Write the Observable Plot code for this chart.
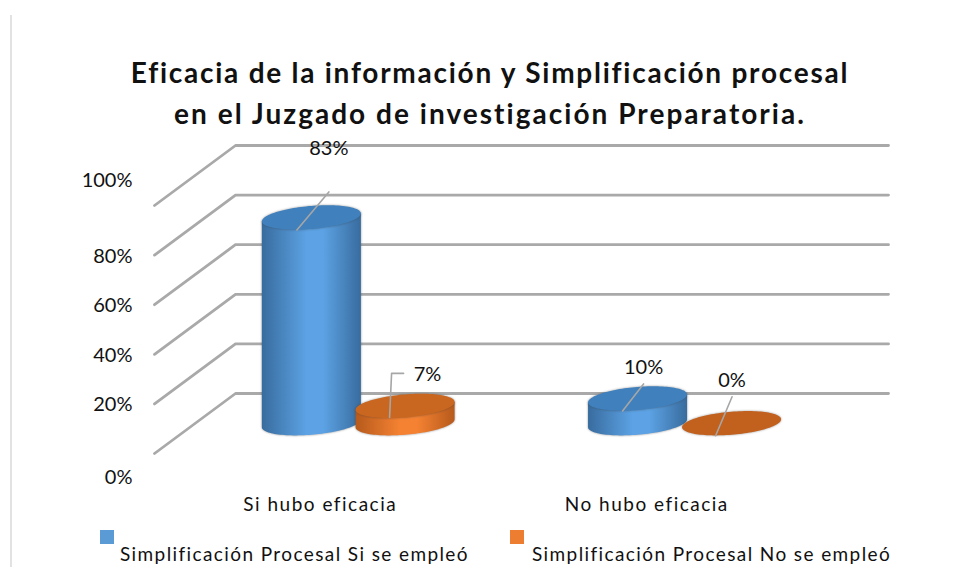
<!DOCTYPE html>
<html lang="es">
<head>
<meta charset="utf-8">
<script src="https://cdn.jsdelivr.net/npm/d3@7"></script>
<script src="https://cdn.jsdelivr.net/npm/@observablehq/plot@0.6"></script>
<style>
  html, body { margin: 0; padding: 0; background: #fff; }
  #page { position: relative; width: 958px; height: 567px; overflow: hidden; font-family: Lato, sans-serif; color: #111; font-variant-ligatures: none; }
  #edge { position: absolute; left: 10px; top: 15px; bottom: 0; width: 2px; background: #e2e2e2; }
  #title { height: 133px; box-sizing: border-box; padding-top: 52px; padding-left: 22px; text-align: center; font-weight: 700; font-size: 28px; line-height: 41px; white-space: nowrap; }
  #title span { display: block; }
  #title span:nth-child(1) { letter-spacing: 1.75px; }
  #title span:nth-child(2) { letter-spacing: 2.03px; }
  #chart svg { display: block; font-variant-ligatures: none; }
  #chart svg [aria-label="x-axis tick label"] { letter-spacing: 1.5px; font-size: 19px; }
  #legend { position: relative; height: 45px; font-size: 19px; white-space: nowrap; }
  #legend i { position: absolute; top: 8px; width: 14px; height: 14px; }
  #legend span { position: absolute; top: 21px; line-height: 22px; letter-spacing: 1.4px; }
</style>
</head>
<body>
<div id="page">
  <div id="edge"></div>
  <div id="title"></div>
  <div id="chart"></div>
  <div id="legend"></div>
</div>
<script>
const titleLines = ["Eficacia de la información y Simplificación procesal", "en el Juzgado de investigación Preparatoria."];
const categories = ["Si hubo eficacia", "No hubo eficacia"];
const seriesNames = ["Simplificación Procesal Si se empleó", "Simplificación Procesal No se empleó"];
const siValues = [83, 10];
const noValues = [7, 0];
const yTicks = [0, 20, 40, 60, 80, 100];
const seriesColors = ["#5b9bd5", "#ed7d31"];

// Scale geometry: one category = 326.5px, one percent = 2.48px
const PX = 1 / 326.5, PY = 1 / 2.48;
const depthX = 81 * PX, depthY = 60 * PY;
const baseLevel = 12;
const radiusX = 49.5 * PX, radiusY = 11.5 * PY, shear = 0.08 * PY / PX;

function ellipse(cx, level) {
  return d3.range(0, 61).map(i => {
    const u = radiusX * Math.cos(Math.PI * (1 - i / 60));
    const h = radiusY * Math.sqrt(Math.max(0, 1 - (u / radiusX) ** 2));
    return {x: cx + u, lo: level + shear * u - h, hi: level + shear * u + h, mid: level + shear * u};
  });
}
function cylinderMarks(cx, value, bodyFill, topFill) {
  const level = baseLevel + value;
  const top = ellipse(cx, level);
  const bottom = ellipse(cx, baseLevel);
  const body = bottom.map((d, i) => ({x: d.x, y1: d.lo, y2: top[i].mid}));
  return [
    value > 0 ? Plot.areaY(body, {x: "x", y1: "y1", y2: "y2", fill: bodyFill, imageFilter: "drop-shadow(0 0 1px rgba(60,60,60,.55))"}) : null,
    Plot.areaY(top, {x: "x", y1: "lo", y2: "hi", fill: topFill, imageFilter: "blur(0.5px) drop-shadow(0 0 1px rgba(60,60,60,.5))"})
  ];
}

const cylinders = [
  {cx: 0.482, value: siValues[0], body: "url(#gBlue)", top: "#3f80bd", leader: [[-15, 12], [17, -26]], label: [17, -69]},
  {cx: 0.769, value: noValues[0], body: "url(#gOrange)", top: "#c9661f", leader: [[-16, 11], [-14, -33], [-2, -33]], label: [22, -32]},
  {cx: 1.481, value: siValues[1], body: "url(#gBlue)", top: "#3f80bd", leader: [[-15.5, 12], [5.5, -15]], label: [5.5, -31]},
  {cx: 1.769, value: noValues[1], body: "url(#gOrange)", top: "#c2601d", leader: [[-16.5, 12], [0, -27]], label: [0, -43]}
];

function gradient(id, edge, mid) {
  const g = d3.create("svg:linearGradient").attr("id", id);
  [[0, edge], [0.45, mid], [0.62, mid], [1, edge]].forEach(([o, c]) =>
    g.append("stop").attr("offset", o).attr("stop-color", c));
  return g.node();
}
const defsMark = () => {
  const d = d3.create("svg:defs");
  d.node().append(gradient("gBlue", "#386c9e", "#5ca2e4"), gradient("gOrange", "#b65a1c", "#f58232"));
  return d.node();
};

const gridMarks = yTicks.map(v => Plot.line(
  [{x: 0, y: v}, {x: depthX, y: v + depthY}, {x: 2 + depthX, y: v + depthY}],
  {x: "x", y: "y", stroke: "#a9a9a9", strokeWidth: 2.8, strokeLinejoin: "round", imageFilter: "blur(0.6px)"}
));

const leaderMarks = cylinders.flatMap(c => {
  const level = baseLevel + c.value;
  const pt = ([dx, dy]) => ({x: c.cx + dx * PX, y: level - dy * PY});
  const [lx, ly] = c.label;
  return [
    Plot.line(c.leader.map(pt), {x: "x", y: "y", stroke: "#a6a6a6", strokeWidth: 1.6}),
    Plot.text([pt([lx, ly])], {x: "x", y: "y", text: () => c.value + "%", fill: "#111"})
  ];
});

const chart = Plot.plot({
  width: 958,
  height: 389,
  marginTop: 11,
  marginBottom: 69,
  marginLeft: 154,
  marginRight: 70,
  style: {fontFamily: "Lato, sans-serif", fontSize: "20px", color: "#111", background: "transparent", overflow: "visible"},
  x: {domain: [0, 2 + depthX], label: null},
  y: {domain: [0, 309 * PY], label: null},
  marks: [
    defsMark,
    ...gridMarks,
    ...cylinders.flatMap(c => cylinderMarks(c.cx, c.value, c.body, c.top)),
    ...leaderMarks,
    Plot.axisY(yTicks.filter(v => v > 0 && v < 100), {tickSize: 0, tickPadding: 22, dy: 1, label: null, tickFormat: d => d + "%", fill: "#111"}),
    Plot.axisY([100], {tickSize: 0, tickPadding: 22, dy: -25, label: null, tickFormat: d => d + "%", fill: "#111"}),
    Plot.axisY([0], {tickSize: 0, tickPadding: 22, dy: 24, label: null, tickFormat: d => d + "%", fill: "#111"}),
    Plot.axisX([0.5, 1.5], {tickSize: 0, tickPadding: 44, dx: 2.5, label: null, tickFormat: d => categories[Math.floor(d)], fill: "#111"})
  ]
});
document.getElementById("chart").append(chart);

const titleEl = document.getElementById("title");
titleLines.forEach(line => {
  const s = document.createElement("span");
  s.textContent = line;
  titleEl.append(s);
});
const legend = document.getElementById("legend");
[[100, 120], [510, 532]].forEach(([sx, tx], i) => {
  const sw = document.createElement("i");
  sw.style.left = sx + "px";
  sw.style.background = seriesColors[i];
  const t = document.createElement("span");
  t.style.left = tx + "px";
  t.textContent = seriesNames[i];
  legend.append(sw, t);
});
</script>
</body>
</html>
